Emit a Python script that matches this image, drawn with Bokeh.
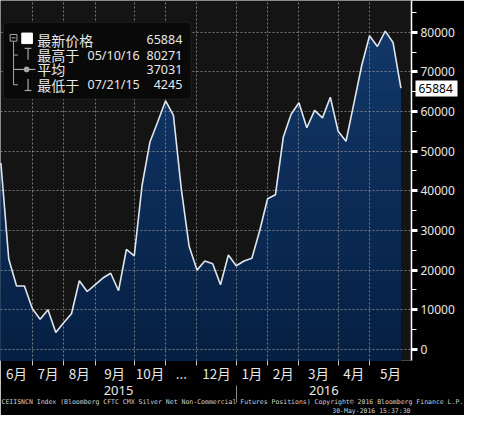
import numpy as np
from datetime import date, timedelta
from bokeh.plotting import figure
from bokeh.models import (Range1d, LinearAxis, FixedTicker, SingleIntervalTicker,
                          Label, BoxAnnotation, Title, NumeralTickFormatter)
from bokeh.embed import file_html
from bokeh.resources import INLINE

# ---------------- data ----------------
start_date = date(2015, 6, 2)          # weekly CFTC observations (Tuesdays)
net_positions = [47000, 22800, 16000, 16000, 10300, 7600, 10000, 4245, 6700, 9000,
                 17300, 14600, 16300, 18000, 19200, 14800, 25200, 23600, 41400, 52300,
                 57400, 62700, 59000, 40500, 26000, 20000, 22300, 21600, 16300, 23800,
                 21100, 22300, 23000, 30000, 38000, 39000, 53500, 59300, 62200, 55900,
                 60300, 58400, 63600, 55000, 52500, 62000, 71600, 79100, 76400, 80271,
                 77400, 65884]
month_labels = ["6月", "7月", "8月", "9月", "10月", "...", "12月", "1月", "2月", "3月", "4月", "5月"]
year_labels = ["2015", "2016"]
average_value = 37031
legend_names = ["最新价格", "最高于", "平均", "最低于"]
footer_line1 = ("CEIISNCN Index (Bloomberg CFTC CMX Silver Net Non-Commercial Futures Positions)  "
                "Copyright\u00a9 2016 Bloomberg Finance L.P.")
footer_line2 = "30-May-2016 15:37:30"

# ---------------- derived ----------------
n = len(net_positions)
xs = np.arange(n, dtype=float)
ys = np.array(net_positions, dtype=float)
dates = [start_date + timedelta(days=7 * i) for i in range(n)]
month_ends = [i for i in range(n - 1) if dates[i + 1].month != dates[i].month]
year_end = [i for i in range(n - 1) if dates[i + 1].year != dates[i].year][0]

X0, X1 = -0.05, 52.35
Y0, Y1 = -2800, 88000

bounds = [0.0] + [float(e) for e in month_ends] + [X1]
month_centers = [round((bounds[k] + bounds[k + 1]) / 2, 3) for k in range(len(bounds) - 1)]
year_centers = [round((0 + year_end) / 2, 3), round((year_end + X1) / 2, 3)]

i_hi = int(np.argmax(ys)); i_lo = int(np.argmin(ys))
last_val = net_positions[-1]
hi_val = net_positions[i_hi]; lo_val = net_positions[i_lo]
hi_date = dates[i_hi].strftime("%m/%d/%y")
lo_date = dates[i_lo].strftime("%m/%d/%y")

# reference-pixel -> data helpers (for decorations only)
def dx(rx):
    return X0 + rx / 425.0 * (X1 - X0)

def dy(ry):
    return Y1 - ry / 376.0 * (Y1 - Y0)

TXT = "#e8e8e8"

p = figure(width=464, height=415, output_backend="svg", toolbar_location=None,
           x_range=Range1d(X0, X1), y_range=Range1d(Y0, Y1),
           y_axis_location="right",
           min_border_left=0, min_border_top=0, min_border_right=53, min_border_bottom=55)
p.border_fill_color = "black"
p.background_fill_color = "#141414"
p.outline_line_color = None

# ---- gradient area fill ----
c_top = np.array([19, 58, 108]); c_bot = np.array([6, 31, 66])
levels = np.linspace(Y1, Y0, 25)[:-1]
for lev in levels:
    t = (lev - Y0) / (Y1 - Y0)
    c = (c_bot + (c_top - c_bot) * t).astype(int)
    p.varea(x=xs, y1=Y0, y2=np.minimum(ys, lev), fill_color="#%02x%02x%02x" % tuple(c))

p.line(xs, ys, line_color="#dfe5ec", line_width=1.6, level="annotation")

# ---- grids ----
p.xgrid.ticker = FixedTicker(ticks=[float(e) for e in month_ends])
p.ygrid.ticker = SingleIntervalTicker(interval=10000)
for g in (p.xgrid, p.ygrid):
    g.grid_line_color = "#9a9a9a"
    g.grid_line_alpha = 0.75
    g.grid_line_dash = "2 2"
    g.grid_line_width = 1
    g.level = "glyph"

# ---- right y axis ----
ya = p.yaxis[0]
ya.ticker = SingleIntervalTicker(interval=10000, num_minor_ticks=2)
ya.formatter = NumeralTickFormatter(format="0")
ya.axis_line_color = "white"
ya.axis_line_width = 1.5
ya.major_tick_in = 0
ya.major_tick_out = 6
ya.major_tick_line_width = 3
ya.major_tick_line_color = "white"
ya.minor_tick_in = 0
ya.minor_tick_out = 5
ya.minor_tick_line_color = "white"
ya.major_label_standoff = 3
ya.major_label_text_font = "Noto Sans"
ya.major_label_text_font_size = "12px"
ya.major_label_text_color = TXT

# ---- last-value tag on the axis (second right axis drawn back over the first) ----
tag = LinearAxis(ticker=FixedTicker(ticks=[float(last_val)]),
                 formatter=NumeralTickFormatter(format="0"))
tag.axis_line_color = None
tag.major_tick_out = 0
tag.major_tick_in = 42
tag.major_tick_line_width = 16
tag.major_tick_line_color = "white"
tag.minor_tick_line_color = None
tag.major_label_standoff = -39
tag.major_label_text_font = "Noto Sans"
tag.major_label_text_font_size = "12px"
tag.major_label_text_color = "black"
p.add_layout(tag, "right")

# ---- month axis ----
xa = p.xaxis[0]
xa.ticker = FixedTicker(ticks=month_centers, minor_ticks=[float(e) for e in month_ends])
xa.major_label_overrides = {c: lab for c, lab in zip(month_centers, month_labels)}
xa.axis_line_color = None
xa.major_tick_line_color = None
xa.major_tick_out = 0
xa.major_tick_in = 0
xa.minor_tick_in = 0
xa.minor_tick_out = 5
xa.minor_tick_line_color = "#c8c8c8"
xa.major_label_standoff = -3
xa.major_label_text_font = "Noto Sans CJK SC"
xa.major_label_text_font_size = "13.5px"
xa.major_label_text_color = TXT

# ---- year axis ----
ya2 = LinearAxis(ticker=FixedTicker(ticks=year_centers, minor_ticks=[float(year_end)]))
ya2.major_label_overrides = {c: lab for c, lab in zip(year_centers, year_labels)}
ya2.axis_line_color = None
ya2.major_tick_line_color = None
ya2.major_tick_out = 0
ya2.major_tick_in = 0
ya2.minor_tick_in = 0
ya2.minor_tick_out = 17
ya2.minor_tick_line_color = "#8a8a8a"
ya2.major_label_standoff = -17
ya2.major_label_text_font = "Noto Sans"
ya2.major_label_text_font_size = "13px"
ya2.major_label_text_color = TXT
p.add_layout(ya2, "below")

# ---- footer ----
for txt, al, so in ((footer_line1, "left", -3), (footer_line2, "right", 0)):
    t = Title(text=txt, align=al, text_font="DejaVu Sans Mono", text_font_size="6.5px",
              text_color="#d0d0d0", text_font_style="normal", standoff=so, offset=1)
    p.add_layout(t, "below")

# ---- legend box ----
p.add_layout(BoxAnnotation(left=dx(3), right=dx(197), top=dy(23), bottom=dy(103),
                           fill_color="#090909", fill_alpha=0.96, line_color="#3a3a3a",
                           line_width=1, border_radius=4))

ICON = "#a8a8a8"
# tree lines & icons
p.segment(x0=[dx(13.5), dx(13.5), dx(13.5), dx(13.5), dx(11.5)],
          y0=[dy(43), dy(57), dy(72), dy(88), dy(39)],
          x1=[dx(13.5), dx(18), dx(18), dx(18), dx(15.5)],
          y1=[dy(88), dy(57), dy(72), dy(88), dy(39)],
          line_color=ICON, line_width=1, level="overlay")
p.rect(x=[dx(13.5)], y=[dy(39)], width=dx(7) - dx(0), height=dy(0) - dy(7),
       fill_color=None, line_color=ICON, line_width=1, level="overlay")
p.rect(x=[dx(27.5)], y=[dy(39.5)], width=dx(11) - dx(0), height=dy(0) - dy(11),
       fill_color="white", line_color="white", level="overlay")
p.segment(x0=[dx(25), dx(28.5), dx(17), dx(28.5), dx(25)],
          y0=[dy(50), dy(50), dy(72), dy(82), dy(94)],
          x1=[dx(32), dx(28.5), dx(36), dx(28.5), dx(32)],
          y1=[dy(50), dy(62), dy(72), dy(94), dy(94)],
          line_color=ICON, line_width=1.2, level="overlay")
p.scatter(x=[dx(27)], y=[dy(72)], size=5, marker="circle", fill_color=ICON,
          line_color=ICON, level="overlay")

rows_y = [41, 57, 72, 88]
row_vals = [last_val, hi_val, average_value, lo_val]
row_dates = [None, hi_date, None, lo_date]
for name, ry, v, d in zip(legend_names, rows_y, row_vals, row_dates):
    p.add_layout(Label(x=dx(38), y=dy(ry), text=name, text_font="Noto Sans CJK SC",
                       text_font_size="14px", text_color=TXT, text_baseline="middle"))
    p.add_layout(Label(x=dx(188), y=dy(ry), text=str(v), text_font="Noto Sans",
                       text_font_size="12.5px", text_color=TXT, text_baseline="middle",
                       text_align="right"))
    if d:
        p.add_layout(Label(x=dx(90), y=dy(ry), text=d, text_font="Noto Sans",
                           text_font_size="12.5px", text_color=TXT, text_baseline="middle"))

open("out.html", "w").write(file_html(p, INLINE))
